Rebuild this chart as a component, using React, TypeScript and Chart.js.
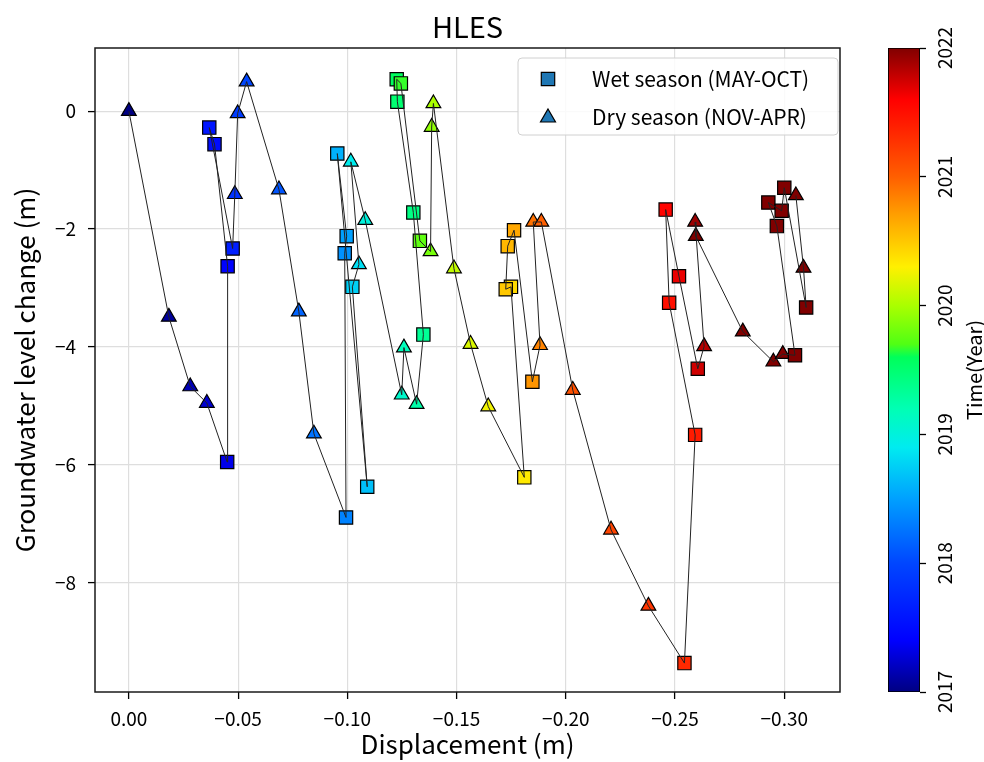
import React, { useEffect, useRef } from 'react';
import { Chart, registerables } from 'chart.js';
Chart.register(...registerables);

// ---------- data ----------
const startYear = 2017;
// months since Jan 2017
const monthIndex = [
  0, 1, 2, 3, 4, 5, 6, 7, 8, 10, 11,
  12, 13, 14, 15, 16, 17, 18, 19, 20, 21, 22, 23,
  24, 25, 26, 27, 28, 29, 30, 31, 32, 33, 34, 35,
  36, 37, 38, 39, 40, 41, 42, 43, 44, 45, 46, 47,
  48, 49, 50, 51, 52, 53, 54, 55, 56, 57, 58, 59,
  60, 61, 62, 63, 64, 65, 66, 67, 68, 69, 70, 71,
];
const displacement = [
  0.0, -0.0183, -0.0281, -0.0357, -0.045, -0.0452, -0.0392, -0.0368, -0.0475, -0.0485, -0.0498,
  -0.0539, -0.0687, -0.0778, -0.0847, -0.0994, -0.0988, -0.0997, -0.0954, -0.1091, -0.1023, -0.1053, -0.1016,
  -0.1082, -0.1249, -0.1259, -0.1317, -0.1348, -0.1302, -0.1229, -0.1226, -0.1245, -0.1332, -0.1381, -0.1386,
  -0.1394, -0.1488, -0.1564, -0.1645, -0.181, -0.1749, -0.1725, -0.1734, -0.1763, -0.1847, -0.1882, -0.1851,
  -0.1888, -0.2032, -0.2207, -0.2378, -0.2543, -0.2592, -0.2473, -0.2457, -0.2518, -0.2604, -0.2633, -0.2592,
  -0.2595, -0.281, -0.295, -0.2993, -0.3049, -0.2966, -0.2927, -0.2988, -0.3, -0.31, -0.3088, -0.3053,
];
const gwChange = [
  0.0, -3.49, -4.67, -4.95, -5.95, -2.63, -0.56, -0.28, -2.33, -1.41, -0.04,
  0.5, -1.33, -3.4, -5.47, -6.89, -2.41, -2.12, -0.72, -6.37, -2.98, -2.6, -0.86,
  -1.85, -4.81, -4.01, -4.97, -3.79, -1.72, 0.16, 0.54, 0.47, -2.2, -2.38, -0.27,
  0.13, -2.67, -3.95, -5.01, -6.21, -2.98, -3.02, -2.29, -2.02, -4.59, -3.97, -1.88,
  -1.88, -4.73, -7.1, -8.39, -9.36, -5.49, -3.25, -1.67, -2.8, -4.37, -3.99, -1.88,
  -2.12, -3.74, -4.25, -4.12, -4.14, -1.95, -1.55, -1.69, -1.3, -3.33, -2.66, -1.43,
];
// W = wet season (MAY-OCT), D = dry season (NOV-APR)
const season = [
  'D', 'D', 'D', 'D', 'W', 'W', 'W', 'W', 'W', 'D', 'D',
  'D', 'D', 'D', 'D', 'W', 'W', 'W', 'W', 'W', 'W', 'D', 'D',
  'D', 'D', 'D', 'D', 'W', 'W', 'W', 'W', 'W', 'W', 'D', 'D',
  'D', 'D', 'D', 'D', 'W', 'W', 'W', 'W', 'W', 'W', 'D', 'D',
  'D', 'D', 'D', 'D', 'W', 'W', 'W', 'W', 'W', 'W', 'D', 'D',
  'D', 'D', 'D', 'D', 'W', 'W', 'W', 'W', 'W', 'W', 'D', 'D',
];
const xTicks = [0, -0.05, -0.1, -0.15, -0.2, -0.25, -0.3];
const yTicks = [0, -2, -4, -6, -8];
const cbTicks = [2017, 2018, 2019, 2020, 2021, 2022];
const legendLabels = ['Wet season (MAY-OCT)', 'Dry season (NOV-APR)'];
const titleText = 'HLES';
const xTitle = 'Displacement (m)';
const yTitle = 'Groundwater level change (m)';
const cbTitle = 'Time(Year)';

// ---------- style ----------
const FONT = '"Noto Sans CJK SC", "Noto Sans", sans-serif';
const cmapStops: number[][] = [
  [0.0, 0, 0, 130], [0.08, 0, 0, 255], [0.2, 0, 70, 255], [0.3, 0, 160, 255],
  [0.38, 0, 235, 240], [0.44, 0, 255, 180], [0.52, 0, 255, 90], [0.54, 80, 255, 20],
  [0.6, 170, 255, 0], [0.66, 255, 240, 0], [0.74, 255, 160, 0], [0.8, 255, 95, 0],
  [0.88, 255, 30, 0], [0.92, 255, 0, 0], [1.0, 128, 0, 0],
];
function cmap(t: number): string {
  const v = Math.max(0, Math.min(1, t));
  for (let i = 1; i < cmapStops.length; i++) {
    const a = cmapStops[i - 1], b = cmapStops[i];
    if (v <= b[0]) {
      const f = (v - a[0]) / (b[0] - a[0] || 1);
      const c = [1, 2, 3].map((k) => Math.round(a[k] + (b[k] - a[k]) * f));
      return `rgb(${c[0]},${c[1]},${c[2]})`;
    }
  }
  const l = cmapStops[cmapStops.length - 1];
  return `rgb(${l[1]},${l[2]},${l[3]})`;
}
const cbMin = cbTicks[0], cbMax = cbTicks[cbTicks.length - 1];
const norm = (yr: number) => (yr - cbMin) / (cbMax - cbMin);
const minus = (s: string) => s.replace('-', '\u2212');

export default function App() {
  const mainRef = useRef<HTMLCanvasElement>(null);
  const cbRef = useRef<HTMLCanvasElement>(null);

  useEffect(() => {
    document.body.style.margin = '0';
    const pts = monthIndex.map((m, i) => ({
      x: displacement[i], y: gwChange[i], yr: startYear + m / 12, s: season[i],
    }));
    const wet = pts.filter((p) => p.s === 'W');
    const dry = pts.filter((p) => p.s === 'D');

    const framePlugin = {
      id: 'frame',
      afterDraw(chart: any) {
        const { ctx, chartArea: ca } = chart;
        ctx.save();
        ctx.strokeStyle = '#1a1a1a';
        ctx.lineWidth = 1.5;
        ctx.strokeRect(ca.left, ca.top, ca.right - ca.left, ca.bottom - ca.top);
        // title
        ctx.fillStyle = '#000';
        ctx.font = `29px ${FONT}`;
        ctx.textAlign = 'center';
        ctx.textBaseline = 'middle';
        ctx.fillText(titleText, (ca.left + ca.right) / 2, 27);
        // legend
        const bw = 320, bh = 77;
        const bx = ca.right - 322, by = ca.top + 10;
        ctx.beginPath();
        (ctx as any).roundRect(bx, by, bw, bh, 4);
        ctx.fillStyle = 'rgba(255,255,255,0.85)';
        ctx.fill();
        ctx.strokeStyle = '#d0d0d0';
        ctx.lineWidth = 1;
        ctx.stroke();
        const mx = bx + 30;
        const rows = [by + 21, by + 59];
        ctx.fillStyle = '#1f77b4';
        ctx.strokeStyle = '#000';
        ctx.lineWidth = 1.2;
        ctx.beginPath();
        ctx.rect(mx - 6.7, rows[0] - 6.7, 13.4, 13.4);
        ctx.fill(); ctx.stroke();
        ctx.beginPath();
        ctx.moveTo(mx, rows[1] - 8);
        ctx.lineTo(mx + 7.5, rows[1] + 5);
        ctx.lineTo(mx - 7.5, rows[1] + 5);
        ctx.closePath();
        ctx.fill(); ctx.stroke();
        ctx.fillStyle = '#000';
        ctx.font = `21px ${FONT}`;
        ctx.textAlign = 'left';
        ctx.textBaseline = 'middle';
        ctx.fillText(legendLabels[0], bx + 74, rows[0]);
        ctx.fillText(legendLabels[1], bx + 74, rows[1]);
        ctx.restore();
      },
    };

    const main = new Chart(mainRef.current!, {
      type: 'scatter',
      data: {
        datasets: [
          {
            data: pts.map((p) => ({ x: p.x, y: p.y })),
            showLine: true,
            borderColor: '#222',
            borderWidth: 1,
            pointRadius: 0,
            order: 0,
          } as any,
          {
            data: wet.map((p) => ({ x: p.x, y: p.y })),
            pointStyle: 'rect',
            pointRadius: 9.4,
            backgroundColor: wet.map((p) => cmap(norm(p.yr))),
            borderColor: '#000',
            borderWidth: 1.2,
            order: 1,
          },
          {
            data: dry.map((p) => ({ x: p.x, y: p.y })),
            pointStyle: 'triangle',
            pointRadius: 8.5,
            backgroundColor: dry.map((p) => cmap(norm(p.yr))),
            borderColor: '#000',
            borderWidth: 1.2,
            order: 1,
          },
        ],
      },
      options: {
        animation: false,
        responsive: false,
        maintainAspectRatio: false,
        layout: { padding: { top: 48, right: 144, bottom: 0, left: 0 } },
        scales: {
          x: {
            type: 'linear',
            reverse: true,
            min: -0.3255,
            max: 0.0155,
            afterBuildTicks: (s: any) => { s.ticks = xTicks.map((v) => ({ value: v })); },
            afterFit: (s: any) => { s.height = 70; },
            ticks: {
              callback: (v: any) => minus(Number(v).toFixed(2)),
              font: { size: 19, family: FONT },
              color: '#000',
              padding: 8,
              maxRotation: 0,
              autoSkip: false,
            },
            grid: { color: '#dedede', lineWidth: 1.2, tickColor: '#000', tickLength: 7, tickWidth: 1.3 },
            border: { display: false },
            title: { display: true, text: xTitle, color: '#000', font: { size: 26, family: FONT }, padding: { top: 0, bottom: 2 } },
          },
          y: {
            type: 'linear',
            min: -9.85,
            max: 1.07,
            afterBuildTicks: (s: any) => { s.ticks = yTicks.map((v) => ({ value: v })); },
            afterFit: (s: any) => { s.width = 95; },
            ticks: {
              callback: (v: any) => minus(String(v)),
              font: { size: 19, family: FONT },
              color: '#000',
              padding: 12,
            },
            grid: { color: '#dedede', lineWidth: 1.2, tickColor: '#000', tickLength: 7, tickWidth: 1.3 },
            border: { display: false },
            title: { display: true, text: yTitle, color: '#000', font: { size: 26, family: FONT }, padding: { top: 10, bottom: 0 } },
          },
        },
        plugins: { legend: { display: false }, tooltip: { enabled: false } },
      },
      plugins: [framePlugin],
    } as any);

    const cbPlugin = {
      id: 'cbLabels',
      afterDraw(chart: any) {
        const { ctx } = chart;
        const s = chart.scales.y;
        ctx.save();
        ctx.fillStyle = '#000';
        ctx.font = `19px ${FONT}`;
        ctx.textAlign = 'center';
        ctx.textBaseline = 'middle';
        cbTicks.forEach((v) => {
          ctx.save();
          ctx.translate(75, s.getPixelForValue(v));
          ctx.rotate(-Math.PI / 2);
          ctx.fillText(String(v), 0, 0);
          ctx.restore();
        });
        ctx.translate(104, (chart.chartArea.top + chart.chartArea.bottom) / 2);
        ctx.rotate(-Math.PI / 2);
        ctx.font = `20px ${FONT}`;
        ctx.fillText(cbTitle, 0, 0);
        ctx.restore();
      },
    };

    const cb = new Chart(cbRef.current!, {
      type: 'bar',
      data: {
        labels: [''],
        datasets: [{
          data: [[cbMin, cbMax]],
          backgroundColor: (c: any) => {
            const ch = c.chart;
            const ca = ch.chartArea;
            if (!ca) return '#888';
            const g = ch.ctx.createLinearGradient(0, ca.bottom, 0, ca.top);
            cmapStops.forEach((st) => g.addColorStop(st[0], `rgb(${st[1]},${st[2]},${st[3]})`));
            return g;
          },
          borderColor: '#000',
          borderWidth: 1.2,
          borderSkipped: false,
          barPercentage: 1,
          categoryPercentage: 1,
        }],
      },
      options: {
        animation: false,
        responsive: false,
        maintainAspectRatio: false,
        layout: { padding: { left: 18, top: 48, bottom: 70, right: 0 } },
        scales: {
          x: { display: false },
          y: {
            position: 'right',
            min: cbMin,
            max: cbMax,
            afterBuildTicks: (s: any) => { s.ticks = cbTicks.map((v) => ({ value: v })); },
            afterFit: (s: any) => { s.width = 64; },
            ticks: { display: false },
            grid: { drawOnChartArea: false, tickColor: '#000', tickLength: 6, tickWidth: 1.3 },
            border: { display: false },
          },
        },
        plugins: { legend: { display: false }, tooltip: { enabled: false } },
      },
      plugins: [cbPlugin],
    } as any);

    return () => { main.destroy(); cb.destroy(); };
  }, []);

  return (
    <div style={{ position: 'absolute', left: 0, top: 0, width: 984, height: 762, background: '#fff' }}>
      <canvas ref={mainRef} width={984} height={762} style={{ position: 'absolute', left: 0, top: 0 }} />
      <canvas ref={cbRef} width={114} height={762} style={{ position: 'absolute', left: 870, top: 0 }} />
    </div>
  );
}
